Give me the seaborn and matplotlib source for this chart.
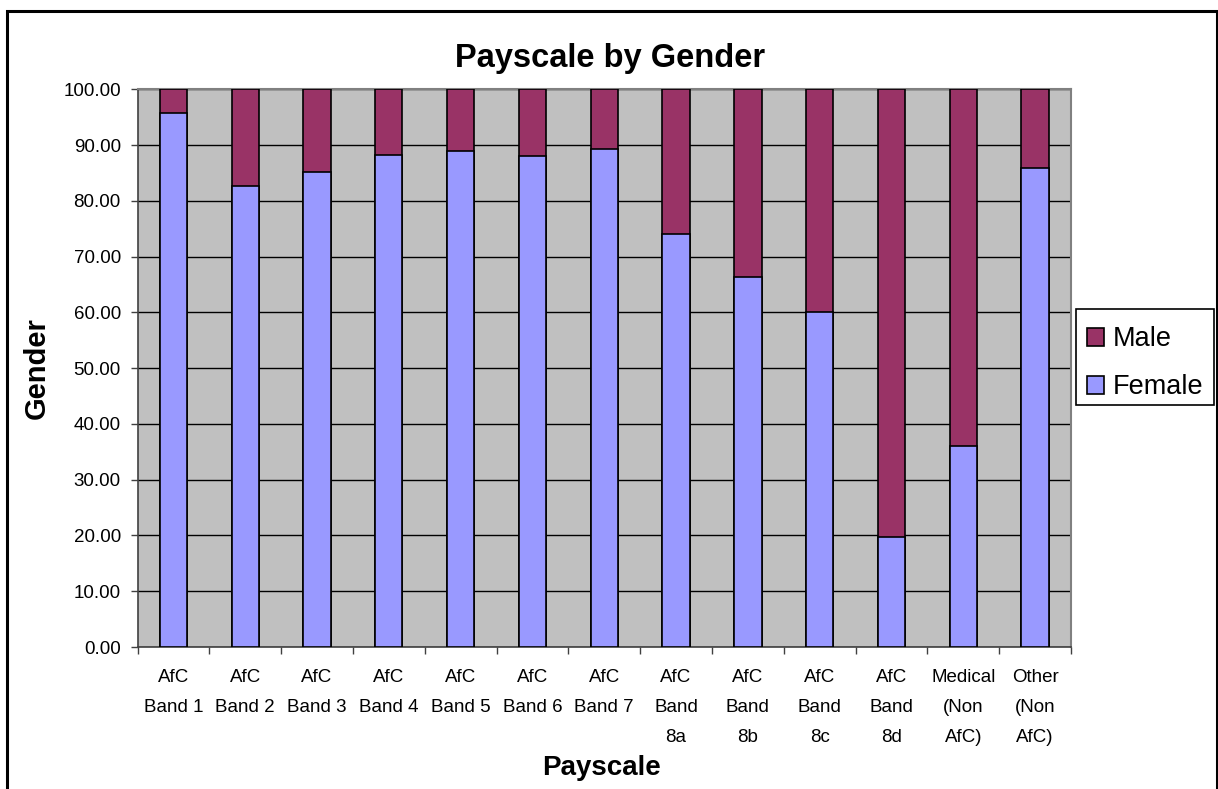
import matplotlib
matplotlib.use("Agg")
import matplotlib.pyplot as plt
import seaborn as sns
from matplotlib.patches import Patch, Rectangle
from matplotlib.ticker import FixedLocator, FormatStrFormatter

categories = ["AfC\nBand 1", "AfC\nBand 2", "AfC\nBand 3", "AfC\nBand 4", "AfC\nBand 5",
              "AfC\nBand 6", "AfC\nBand 7", "AfC\nBand\n8a", "AfC\nBand\n8b", "AfC\nBand\n8c",
              "AfC\nBand\n8d", "Medical\n(Non\nAfC)", "Other\n(Non\nAfC)"]
female = [95.7, 82.6, 85.2, 88.3, 89.0, 88.0, 89.3, 74.0, 66.3, 60.0, 19.7, 36.0, 85.9]
male = [4.3, 17.4, 14.8, 11.7, 11.0, 12.0, 10.7, 26.0, 33.7, 40.0, 80.3, 64.0, 14.1]
y_ticks = [0, 10, 20, 30, 40, 50, 60, 70, 80, 90, 100]

female_color = "#9999FF"
male_color = "#993366"

sns.set_theme(style="white")
plt.rcParams["font.family"] = ["Liberation Sans", "DejaVu Sans"]
plt.rcParams["text.color"] = "black"
plt.rcParams["xtick.color"] = "black"
plt.rcParams["ytick.color"] = "black"
plt.rcParams["xtick.labelcolor"] = "black"
plt.rcParams["ytick.labelcolor"] = "black"

fig = plt.figure(figsize=(12.18, 7.89), dpi=100)
ax = fig.add_axes([137.5 / 1218, 1 - 647 / 789, (1071 - 137.5) / 1218, (647 - 89.3) / 789])
ax.set_facecolor("#C0C0C0")

totals = [f + m for f, m in zip(female, male)]
sns.barplot(x=categories, y=totals, color=male_color, saturation=1, width=0.38,
            edgecolor="black", linewidth=1.2, ax=ax, zorder=3)
sns.barplot(x=categories, y=female, color=female_color, saturation=1, width=0.38,
            edgecolor="black", linewidth=1.2, ax=ax, zorder=4)

ax.set_xlim(-0.5, len(categories) - 0.5)
ax.set_ylim(0, 100)
ax.set_yticks(y_ticks)
ax.yaxis.set_major_formatter(FormatStrFormatter("%.2f"))
ax.grid(axis="y", color="black", linewidth=1.0, zorder=1)
ax.set_axisbelow(True)

ax.xaxis.set_minor_locator(FixedLocator([i - 0.5 for i in range(len(categories) + 1)]))
ax.tick_params(axis="x", which="major", length=0, pad=16, labelsize=13.5, labelcolor="black")
ax.tick_params(axis="x", which="minor", length=5, width=1, color="#404040", direction="out", bottom=True)
ax.tick_params(axis="y", which="major", length=5, width=1, color="#404040", direction="out",
               left=True, pad=7, labelsize=13.5, labelcolor="black")
for lbl in ax.get_xticklabels():
    lbl.set_linespacing(1.99)
    lbl.set_verticalalignment("top")

for side in ["left", "bottom"]:
    ax.spines[side].set_color("#404040")
    ax.spines[side].set_linewidth(1.2)
for side in ["top", "right"]:
    ax.spines[side].set_color("#808080")
    ax.spines[side].set_linewidth(1.5)

ax.set_xlabel("")
ax.set_ylabel("")
fig.text(602 / 1218, 1 - 768 / 789, "Payscale", ha="center", va="center",
         fontsize=20, fontweight="bold", color="black")
fig.text(37 / 1218, 1 - 368 / 789, "Gender", ha="center", va="center", rotation=90,
         fontsize=21, fontweight="bold", color="black")
fig.text(610 / 1218, 1 - 58 / 789, "Payscale by Gender", ha="center", va="center",
         fontsize=23.5, fontweight="bold", color="black")

# legend box (frame drawn separately so entries sit where they do in the reference)
fig.patches.append(Rectangle((1076 / 1218, 1 - 405 / 789), (1214 - 1076) / 1218, (405 - 309.5) / 789,
                             transform=fig.transFigure, facecolor="white", edgecolor="black",
                             linewidth=1.2, zorder=5))
handles = [Patch(facecolor=male_color, edgecolor="black", linewidth=1.2, label="Male"),
           Patch(facecolor=female_color, edgecolor="black", linewidth=1.2, label="Female")]
leg = fig.legend(handles=handles, loc="lower left", bbox_to_anchor=(1076 / 1218, 1 - 411 / 789),
                 fontsize=19.5, frameon=False, handlelength=0.65, handleheight=0.65,
                 handletextpad=0.3, labelspacing=0.8, borderpad=0.4, borderaxespad=0)
leg.set_zorder(6)
for t in leg.get_texts():
    t.set_color("black")

fig.patches.append(Rectangle((7 / 1218, -0.05), (1217 - 7) / 1218, 1 - 11 / 789 + 0.05,
                             transform=fig.transFigure, fill=False, edgecolor="black",
                             linewidth=2.2, clip_on=False))

fig.savefig("out.png", dpi=100)
